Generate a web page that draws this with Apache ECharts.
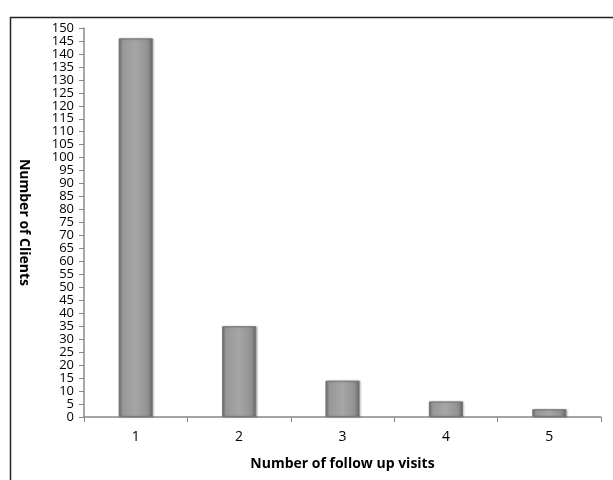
<!DOCTYPE html>
<html>
<head>
<meta charset="utf-8">
<script src="https://cdn.jsdelivr.net/npm/echarts@6/dist/echarts.min.js"></script>
<style>html,body{margin:0;padding:0;background:#fff}#c{width:613px;height:480px}</style>
</head>
<body>
<div id="c"></div>
<script>
const categories = ['1', '2', '3', '4', '5'];
const clients = [146, 35, 14, 6, 3];
const yTicks = { min: 0, max: 150, interval: 5 };
const xTitle = 'Number of follow up visits';
const yTitle = 'Number of Clients';

const chart = echarts.init(document.getElementById('c'), null, { renderer: 'canvas' });
const barGrad = new echarts.graphic.LinearGradient(0, 0, 1, 0, [
  { offset: 0, color: '#787878' },
  { offset: 0.12, color: '#989898' },
  { offset: 0.5, color: '#a6a6a6' },
  { offset: 0.85, color: '#929292' },
  { offset: 1, color: '#666' }
]);
chart.setOption({
  animation: false,
  backgroundColor: '#fff',
  graphic: [{
    type: 'rect', left: 8, top: 15, shape: { x: 0, y: 0, width: 700, height: 600 },
    style: { fill: 'none', stroke: '#222', lineWidth: 1.5 }, silent: true
  }],
  grid: { left: 84, right: 12, top: 28, bottom: 63 },
  xAxis: {
    type: 'category', data: categories, boundaryGap: true,
    name: xTitle, nameLocation: 'middle', nameGap: 40,
    nameTextStyle: { fontFamily: 'Open Sans', fontWeight: 'bold', fontSize: 14, color: '#000' },
    axisLine: { lineStyle: { color: '#888', width: 1.5 } },
    axisTick: { show: true, length: 5, alignWithLabel: false, lineStyle: { color: '#888' } },
    axisLabel: { fontFamily: 'Open Sans', fontSize: 14, color: '#000', margin: 13 }
  },
  yAxis: {
    type: 'value', min: yTicks.min, max: yTicks.max, interval: yTicks.interval,
    name: yTitle, nameLocation: 'middle', nameGap: 53, nameRotate: -90,
    nameTextStyle: { fontFamily: 'Open Sans', fontWeight: 'bold', fontSize: 14, color: '#000' },
    axisLine: { show: true, lineStyle: { color: '#888', width: 1.5 } },
    axisTick: { show: true, length: 5, lineStyle: { color: '#888' } },
    splitLine: { show: false },
    axisLabel: { fontFamily: 'Open Sans', fontSize: 13, color: '#000', margin: 10 }
  },
  series: [{
    type: 'bar', data: clients, barWidth: '33%',
    itemStyle: { color: barGrad, borderColor: '#777', borderWidth: 1, shadowColor: 'rgba(0,0,0,0.25)', shadowBlur: 2, shadowOffsetX: 1 }
  }]
});
</script>
</body>
</html>
